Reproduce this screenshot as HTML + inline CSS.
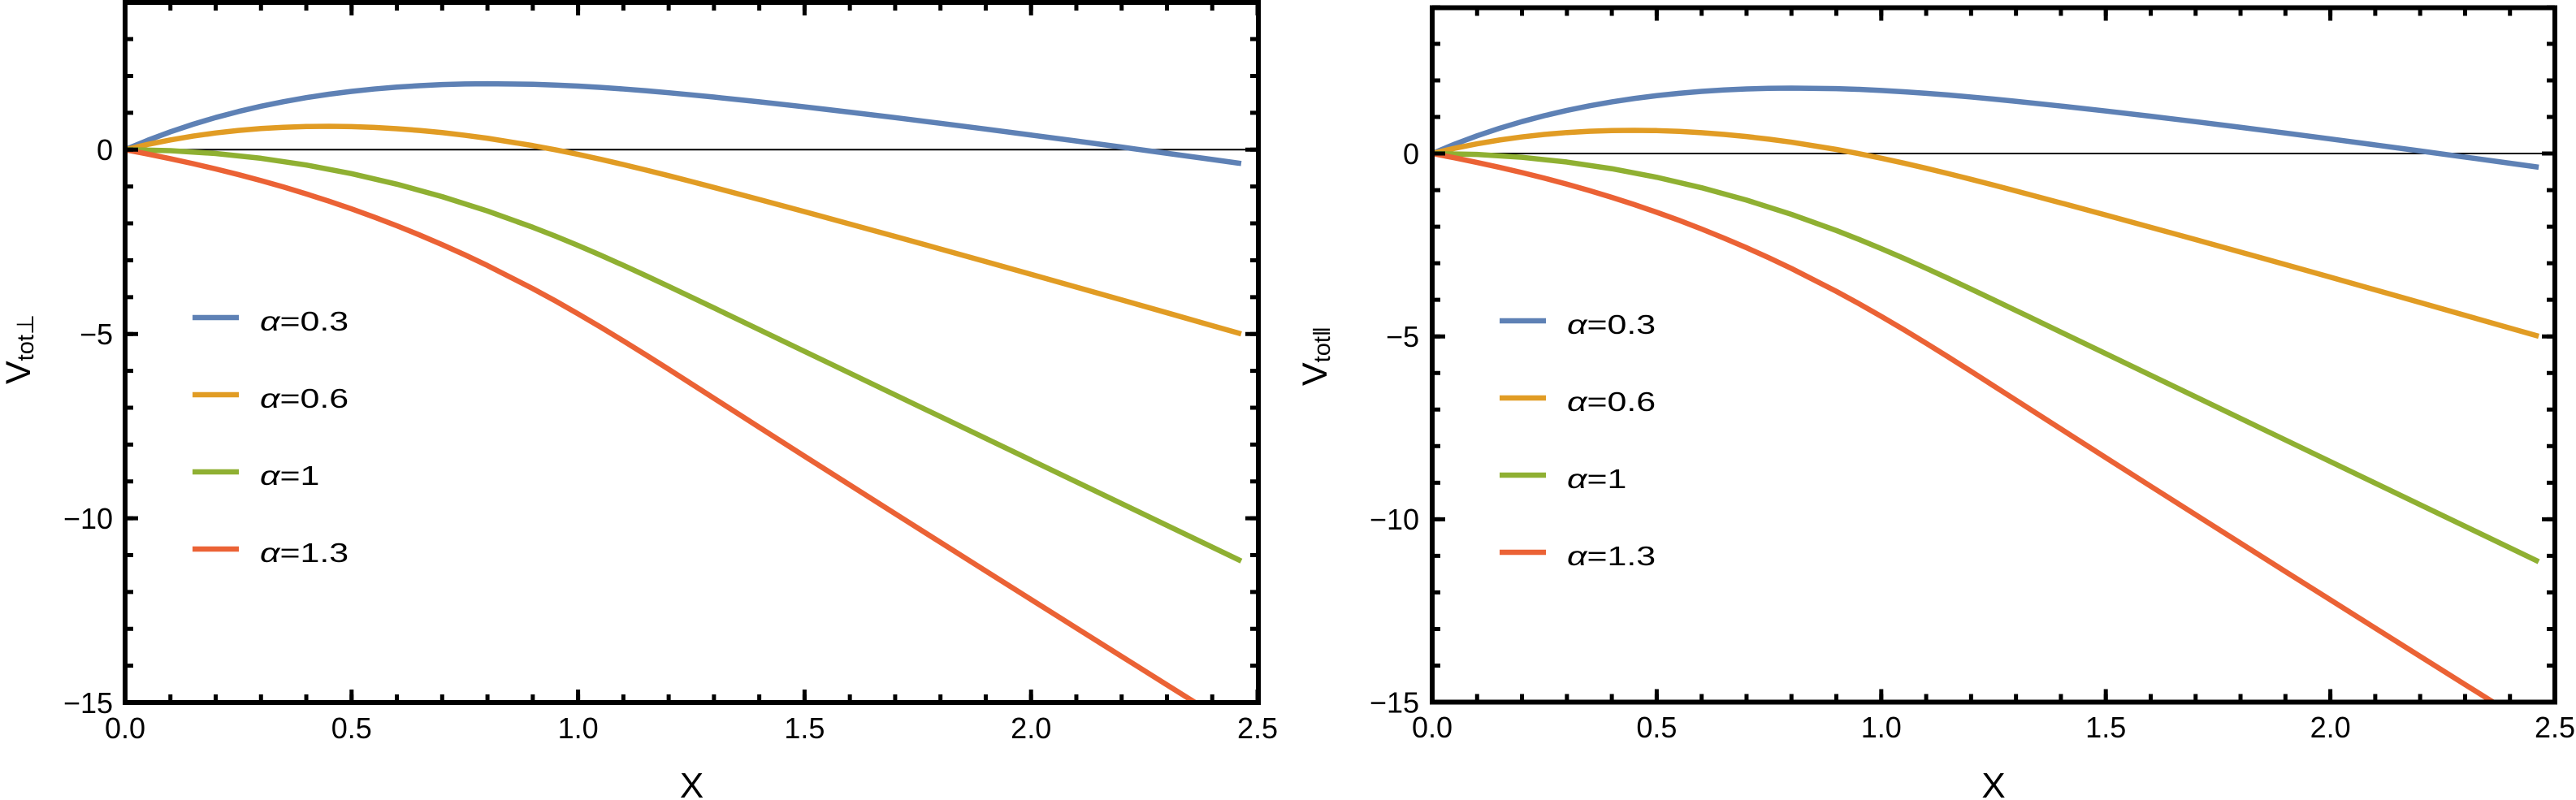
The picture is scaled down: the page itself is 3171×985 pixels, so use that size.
<!DOCTYPE html>
<html><head><meta charset="utf-8"><style>
html,body{margin:0;padding:0;background:#fff;}
svg{display:block;}
text{font-family:"Liberation Sans","DejaVu Sans",sans-serif;fill:#000;}
.c{fill:none;stroke-width:6.5;stroke-linejoin:round;stroke-linecap:butt;}
</style></head><body>
<svg width="3171" height="985" viewBox="0 0 3171 985" xmlns="http://www.w3.org/2000/svg">
<defs>
<clipPath id="cl"><rect x="154" y="3" width="1395" height="862"/></clipPath>
<clipPath id="cr"><rect x="1763" y="9.5" width="1382" height="855"/></clipPath>
</defs>
<rect width="3171" height="985" fill="#fff"/>

<!-- LEFT PANEL -->
<line x1="154" y1="184.3" x2="1549" y2="184.3" stroke="#000" stroke-width="2"/>
<g clip-path="url(#cl)">
<g transform="translate(154,184.3) scale(557.6,-45.38)">
<polyline class="c" vector-effect="non-scaling-stroke" stroke="#5E81B5" points="0,0 0.05,0.255 0.1,0.484 0.15,0.690 0.2,0.873 0.25,1.035 0.3,1.178 0.35,1.303 0.4,1.412 0.45,1.505 0.5,1.582 0.55,1.647 0.6,1.698 0.65,1.737 0.7,1.766 0.75,1.782 0.8,1.789 0.9,1.775 0.95,1.754 1.0,1.725 1.05,1.689 1.1,1.647 1.15,1.598 1.2,1.545 1.25,1.487 1.3,1.427 1.4,1.298 1.5,1.162 1.6,1.018 1.7,0.870 1.8,0.716 1.9,0.559 2.0,0.398 2.1,0.235 2.2,0.070 2.3,-0.098 2.4,-0.266 2.464,-0.375"/>
<polyline class="c" vector-effect="non-scaling-stroke" stroke="#E19C24" points="0,0 0.05,0.143 0.1,0.265 0.15,0.369 0.2,0.454 0.25,0.522 0.3,0.573 0.35,0.608 0.4,0.628 0.45,0.634 0.5,0.626 0.55,0.604 0.6,0.569 0.65,0.522 0.7,0.463 0.75,0.391 0.8,0.310 0.9,0.111 0.95,-0.003 1.0,-0.128 1.05,-0.263 1.1,-0.404 1.15,-0.553 1.2,-0.706 1.25,-0.863 1.3,-1.025 1.4,-1.351 1.5,-1.682 1.6,-2.017 1.7,-2.354 1.8,-2.695 1.9,-3.038 2.0,-3.382 2.1,-3.728 2.2,-4.076 2.3,-4.424 2.4,-4.774 2.464,-4.998"/>
<polyline class="c" vector-effect="non-scaling-stroke" stroke="#8FB032" points="0,0 0.1,-0.026 0.2,-0.104 0.3,-0.234 0.4,-0.416 0.5,-0.65 0.6,-0.936 0.7,-1.274 0.8,-1.664 0.9,-2.106 0.95,-2.3465 1.0,-2.600 1.05,-2.864 1.1,-3.138 1.15,-3.420 1.2,-3.707 1.25,-3.999 1.3,-4.293 1.319,-4.405 2.464,-11.161"/>
<polyline class="c" vector-effect="non-scaling-stroke" stroke="#EB6235" points="0,0 0.05,-0.118 0.1,-0.245 0.15,-0.379 0.2,-0.522 0.25,-0.675 0.3,-0.839 0.35,-1.013 0.4,-1.200 0.45,-1.397 0.5,-1.607 0.55,-1.829 0.6,-2.065 0.65,-2.314 0.7,-2.576 0.75,-2.853 0.8,-3.144 0.9,-3.769 0.95,-4.104 1.0,-4.454 1.05,-4.815 1.1,-5.189 1.15,-5.570 1.2,-5.958 1.25,-6.351 1.3,-6.744 1.4,-7.532 1.5,-8.317 1.6,-9.098 1.7,-9.877 1.8,-10.654 1.9,-11.430 2.0,-12.204 2.1,-12.977 2.2,-13.749 2.3,-14.520 2.4,-15.290"/>
</g>
</g>
<g stroke="#000" fill="none">
<line x1="151.5" y1="860" x2="1552" y2="860" stroke-width="10" stroke-dasharray="5 50.76"/>
<line x1="151.5" y1="857" x2="1552" y2="857" stroke-width="16" stroke-dasharray="5 273.8"/>
<line x1="151.5" y1="8" x2="1552" y2="8" stroke-width="10" stroke-dasharray="5 50.76"/>
<line x1="151.5" y1="11" x2="1552" y2="11" stroke-width="16" stroke-dasharray="5 273.8"/>
<line x1="159" y1="867.5" x2="159" y2="0" stroke-width="10" stroke-dasharray="5 40.38"/>
<line x1="162" y1="867.5" x2="162" y2="0" stroke-width="16" stroke-dasharray="5 221.9"/>
<line x1="1544" y1="867.5" x2="1544" y2="0" stroke-width="10" stroke-dasharray="5 40.38"/>
<line x1="1541" y1="867.5" x2="1541" y2="0" stroke-width="16" stroke-dasharray="5 221.9"/>
<rect x="154" y="3" width="1395" height="862" stroke-width="6"/>
</g>
<g font-size="36" text-anchor="end">
<text x="139" y="197">0</text>
<text x="139" y="424">−5</text>
<text x="139" y="651">−10</text>
<text x="139" y="878">−15</text>
</g>
<g font-size="36" text-anchor="middle">
<text x="154" y="909">0.0</text>
<text x="432.8" y="909">0.5</text>
<text x="711.6" y="909">1.0</text>
<text x="990.4" y="909">1.5</text>
<text x="1269.2" y="909">2.0</text>
<text x="1548" y="909">2.5</text>
</g>
<text x="851.5" y="982" font-size="44" text-anchor="middle">X</text>
<text transform="translate(37,473) rotate(-90)" font-size="43">V<tspan font-size="29" dy="4">tot⊥</tspan></text>
<g stroke-width="6.5">
<line x1="237" y1="391" x2="294" y2="391" stroke="#5E81B5"/>
<line x1="237" y1="486" x2="294" y2="486" stroke="#E19C24"/>
<line x1="237" y1="581" x2="294" y2="581" stroke="#8FB032"/>
<line x1="237" y1="676" x2="294" y2="676" stroke="#EB6235"/>
</g>
<g font-size="33">
<text transform="translate(320,407) scale(1.3,1)"><tspan font-style="italic">α</tspan>=0.3</text>
<text transform="translate(320,502) scale(1.3,1)"><tspan font-style="italic">α</tspan>=0.6</text>
<text transform="translate(320,597) scale(1.3,1)"><tspan font-style="italic">α</tspan>=1</text>
<text transform="translate(320,692) scale(1.3,1)"><tspan font-style="italic">α</tspan>=1.3</text>
</g>

<!-- RIGHT PANEL -->
<line x1="1763" y1="189" x2="3145" y2="189" stroke="#000" stroke-width="2"/>
<g clip-path="url(#cr)">
<g transform="translate(1763,189) scale(552.8,-45.03)">
<polyline class="c" vector-effect="non-scaling-stroke" stroke="#5E81B5" points="0,0 0.05,0.255 0.1,0.484 0.15,0.690 0.2,0.873 0.25,1.035 0.3,1.178 0.35,1.303 0.4,1.412 0.45,1.505 0.5,1.582 0.55,1.647 0.6,1.698 0.65,1.737 0.7,1.766 0.75,1.782 0.8,1.789 0.9,1.775 0.95,1.754 1.0,1.725 1.05,1.689 1.1,1.647 1.15,1.598 1.2,1.545 1.25,1.487 1.3,1.427 1.4,1.298 1.5,1.162 1.6,1.018 1.7,0.870 1.8,0.716 1.9,0.559 2.0,0.398 2.1,0.235 2.2,0.070 2.3,-0.098 2.4,-0.266 2.464,-0.375"/>
<polyline class="c" vector-effect="non-scaling-stroke" stroke="#E19C24" points="0,0 0.05,0.143 0.1,0.265 0.15,0.369 0.2,0.454 0.25,0.522 0.3,0.573 0.35,0.608 0.4,0.628 0.45,0.634 0.5,0.626 0.55,0.604 0.6,0.569 0.65,0.522 0.7,0.463 0.75,0.391 0.8,0.310 0.9,0.111 0.95,-0.003 1.0,-0.128 1.05,-0.263 1.1,-0.404 1.15,-0.553 1.2,-0.706 1.25,-0.863 1.3,-1.025 1.4,-1.351 1.5,-1.682 1.6,-2.017 1.7,-2.354 1.8,-2.695 1.9,-3.038 2.0,-3.382 2.1,-3.728 2.2,-4.076 2.3,-4.424 2.4,-4.774 2.464,-4.998"/>
<polyline class="c" vector-effect="non-scaling-stroke" stroke="#8FB032" points="0,0 0.1,-0.026 0.2,-0.104 0.3,-0.234 0.4,-0.416 0.5,-0.65 0.6,-0.936 0.7,-1.274 0.8,-1.664 0.9,-2.106 0.95,-2.3465 1.0,-2.600 1.05,-2.864 1.1,-3.138 1.15,-3.420 1.2,-3.707 1.25,-3.999 1.3,-4.293 1.319,-4.405 2.464,-11.161"/>
<polyline class="c" vector-effect="non-scaling-stroke" stroke="#EB6235" points="0,0 0.05,-0.118 0.1,-0.245 0.15,-0.379 0.2,-0.522 0.25,-0.675 0.3,-0.839 0.35,-1.013 0.4,-1.200 0.45,-1.397 0.5,-1.607 0.55,-1.829 0.6,-2.065 0.65,-2.314 0.7,-2.576 0.75,-2.853 0.8,-3.144 0.9,-3.769 0.95,-4.104 1.0,-4.454 1.05,-4.815 1.1,-5.189 1.15,-5.570 1.2,-5.958 1.25,-6.351 1.3,-6.744 1.4,-7.532 1.5,-8.317 1.6,-9.098 1.7,-9.877 1.8,-10.654 1.9,-11.430 2.0,-12.204 2.1,-12.977 2.2,-13.749 2.3,-14.520 2.4,-15.290"/>
</g>
</g>
<g stroke="#000" fill="none">
<line x1="1760.5" y1="859.5" x2="3148" y2="859.5" stroke-width="10" stroke-dasharray="5 50.28"/>
<line x1="1760.5" y1="856.5" x2="3148" y2="856.5" stroke-width="16" stroke-dasharray="5 271.4"/>
<line x1="1760.5" y1="14.5" x2="3148" y2="14.5" stroke-width="10" stroke-dasharray="5 50.28"/>
<line x1="1760.5" y1="17.5" x2="3148" y2="17.5" stroke-width="16" stroke-dasharray="5 271.4"/>
<line x1="1768" y1="867" x2="1768" y2="5" stroke-width="10" stroke-dasharray="5 40.03"/>
<line x1="1771" y1="867" x2="1771" y2="5" stroke-width="16" stroke-dasharray="5 220.15"/>
<line x1="3140" y1="867" x2="3140" y2="5" stroke-width="10" stroke-dasharray="5 40.03"/>
<line x1="3137" y1="867" x2="3137" y2="5" stroke-width="16" stroke-dasharray="5 220.15"/>
<rect x="1763" y="9.5" width="1382" height="855" stroke-width="6"/>
</g>
<g font-size="36" text-anchor="end">
<text x="1747" y="202">0</text>
<text x="1747" y="427">−5</text>
<text x="1747" y="652">−10</text>
<text x="1747" y="877.5">−15</text>
</g>
<g font-size="36" text-anchor="middle">
<text x="1763" y="908">0.0</text>
<text x="2039.4" y="908">0.5</text>
<text x="2315.8" y="908">1.0</text>
<text x="2592.2" y="908">1.5</text>
<text x="2868.6" y="908">2.0</text>
<text x="3145" y="908">2.5</text>
</g>
<text x="2454" y="982" font-size="44" text-anchor="middle">X</text>
<text transform="translate(1633,475) rotate(-90)" font-size="43">V<tspan font-size="29" dy="4">tot‖</tspan></text>
<g stroke-width="6.5">
<line x1="1846" y1="395" x2="1903" y2="395" stroke="#5E81B5"/>
<line x1="1846" y1="490" x2="1903" y2="490" stroke="#E19C24"/>
<line x1="1846" y1="585" x2="1903" y2="585" stroke="#8FB032"/>
<line x1="1846" y1="680" x2="1903" y2="680" stroke="#EB6235"/>
</g>
<g font-size="33">
<text transform="translate(1929,411) scale(1.3,1)"><tspan font-style="italic">α</tspan>=0.3</text>
<text transform="translate(1929,506) scale(1.3,1)"><tspan font-style="italic">α</tspan>=0.6</text>
<text transform="translate(1929,601) scale(1.3,1)"><tspan font-style="italic">α</tspan>=1</text>
<text transform="translate(1929,696) scale(1.3,1)"><tspan font-style="italic">α</tspan>=1.3</text>
</g>
</svg>
</body></html>
